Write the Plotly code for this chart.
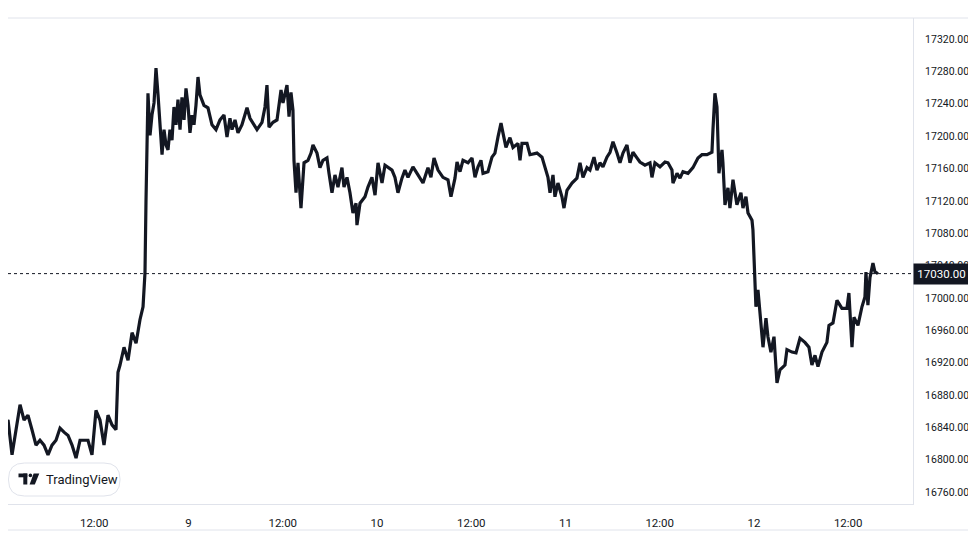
import pandas as pd
import plotly.graph_objects as go

# Hours since 2022-12-08 00:00 and BTC price readings
hours = [0.00, 0.51, 1.02, 1.53, 2.04, 2.55, 3.06, 3.56, 4.07, 4.58, 5.09, 5.60, 6.11, 6.62, 7.13, 7.64,
         8.15, 8.66, 9.17, 9.68, 10.19, 10.69, 11.20, 11.71, 12.22, 12.73, 13.24, 13.75, 14.26, 14.77,
         15.02, 15.28, 15.79, 16.30, 16.81, 17.32, 17.82, 18.21, 18.46, 18.59, 18.72, 18.84, 19.10,
         19.35, 19.61, 19.86, 20.12, 20.37, 20.63, 20.88, 21.14, 21.39, 21.64, 21.90, 22.15, 22.41,
         22.66, 22.92, 23.17, 23.43, 23.68, 23.94, 24.19, 24.45, 24.70, 24.95, 25.21, 25.46, 25.97,
         26.48, 26.99, 27.50, 28.01, 28.52,
         28.90, 29.28, 29.54, 29.92, 30.30, 30.81, 31.45, 31.83, 32.72, 33.36, 33.74, 33.99, 34.25,
         34.76, 35.27, 35.78, 36.03, 36.54, 36.80, 37.05, 37.30, 37.43, 37.69, 37.94, 38.32, 38.71,
         39.21, 39.60, 39.85, 40.36, 40.74, 41.12, 41.63, 41.89, 42.27, 42.65, 43.03, 43.54, 43.80,
         44.18, 44.56, 44.94, 45.33, 45.45, 45.84, 46.47, 46.85, 47.36, 47.75, 48.13, 48.64, 49.02,
         49.91, 50.29, 50.67, 51.18, 51.56, 51.95, 52.58, 53.22, 53.86, 54.49, 54.87, 55.26, 55.77,
         56.40, 57.04, 57.42,
         57.93, 58.19, 58.57, 58.95, 59.59, 60.10, 60.48, 60.86, 61.24, 61.50, 62.13, 62.64, 63.02,
         63.41, 63.79, 64.04, 64.42, 64.93, 65.32, 65.95, 66.21, 66.46, 67.10, 67.48, 68.37, 69.01,
         69.39, 69.77, 70.03, 70.41, 70.66, 71.04, 71.55, 71.81, 72.19, 72.83, 73.46, 73.85, 74.23,
         74.74, 75.12, 75.63, 76.01, 76.39, 76.77, 77.28, 77.67, 78.05, 78.56, 78.94, 79.32, 79.83,
         80.21, 80.59, 81.10, 81.48, 82.12, 82.76, 83.01, 83.39, 84.03, 84.67, 85.05, 85.56, 85.69,
         86.20, 86.58, 86.96, 87.60, 88.23, 88.87,
         89.38, 90.02, 90.65, 90.78, 91.03, 91.29, 91.42, 91.54, 91.93, 92.05, 92.31, 92.69, 92.94,
         93.33, 93.83, 94.34, 94.60, 94.98, 95.24, 95.75, 95.87, 96.13, 96.25, 96.51, 96.76, 97.15,
         97.53, 97.78, 98.16, 98.55, 98.93, 99.31, 99.95, 100.20, 100.84, 101.35, 101.86, 102.49,
         103.00, 103.38, 103.77, 104.15, 104.66, 105.29, 105.55, 106.06, 106.57, 107.20, 107.84,
         108.09, 108.48, 108.73, 109.24, 109.75, 110.13, 110.26, 110.51, 110.77, 111.15, 111.41, 111.79]

prices = [16874, 16837, 16849, 16806, 16837, 16868, 16849, 16855, 16837, 16818, 16824, 16818, 16806, 16818,
          16824, 16839, 16834, 16830, 16818, 16802, 16824, 16824, 16824, 16806, 16861, 16849, 16818, 16855,
          16843, 16837, 16908, 16917, 16939, 16923, 16957, 16944, 16973, 16989, 17031, 17121, 17183, 17253,
          17201, 17226, 17241, 17284, 17251, 17220, 17177, 17208, 17189, 17183, 17208, 17195, 17236, 17214,
          17245, 17208, 17248, 17220, 17259, 17238, 17204, 17226, 17214, 17238, 17273, 17251, 17238, 17235,
          17214, 17208, 17220, 17226,
          17199, 17222, 17208, 17220, 17204, 17214, 17235, 17222, 17208, 17217, 17236, 17263, 17211, 17217,
          17220, 17257, 17241, 17263, 17224, 17254, 17232, 17170, 17130, 17167, 17111, 17167, 17170, 17179,
          17189, 17179, 17161, 17170, 17173, 17154, 17130, 17152, 17137, 17161, 17137, 17149, 17130, 17105,
          17117, 17090, 17117, 17125, 17137, 17149, 17127, 17167, 17142, 17164, 17158, 17149, 17130, 17148,
          17158, 17149, 17162, 17152, 17142, 17161, 17149, 17173, 17158, 17149, 17146, 17125,
          17148, 17168, 17156, 17170, 17167, 17173, 17149, 17162, 17170, 17154, 17156, 17174, 17179, 17199,
          17216, 17204, 17186, 17198, 17186, 17191, 17170, 17191, 17191, 17177, 17179, 17174, 17162, 17149,
          17130, 17152, 17125, 17142, 17125, 17111, 17133, 17142, 17148, 17167, 17149, 17161, 17158, 17174,
          17158, 17167, 17162, 17174, 17180, 17193, 17179, 17167, 17179, 17189, 17167, 17180, 17173, 17168,
          17164, 17167, 17149, 17167, 17162, 17168, 17167, 17158, 17142, 17154, 17148, 17156, 17154, 17161,
          17173,
          17177, 17177, 17180, 17208, 17253, 17236, 17186, 17154, 17183, 17167, 17115, 17136, 17111, 17146,
          17115, 17130, 17111, 17125, 17105, 17096, 17084, 17031, 16989, 17010, 16981, 16939, 16975, 16952,
          16933, 16952, 16895, 16911, 16917, 16936, 16933, 16932, 16950, 16945, 16939, 16917, 16929, 16915,
          16933, 16945, 16966, 16969, 16997, 16987, 16987, 17006, 16939, 16976, 16966, 16989, 17001, 17032,
          16991, 17025, 17043, 17032, 17030]

last_price = 17030.00
y_ticks = [16760, 16800, 16840, 16880, 16920, 16960, 17000, 17040, 17080, 17120, 17160, 17200, 17240, 17280, 17320]
x_tickvals = ["2022-12-08 00:00", "2022-12-08 12:00", "2022-12-09 00:00", "2022-12-09 12:00",
              "2022-12-10 00:00", "2022-12-10 12:00", "2022-12-11 00:00", "2022-12-11 12:00",
              "2022-12-12 00:00", "2022-12-12 12:00"]
x_ticktext = ["8", "12:00", "9", "12:00", "10", "12:00", "11", "12:00", "12", "12:00"]

times = pd.Timestamp("2022-12-08 00:00") + pd.to_timedelta(hours, unit="h")

# The page body adds an 8px offset; figure sized/positioned to compensate.
OFF = 8
W, H = 976 - OFF, 542 - 2 * OFF
SL, SR, ST, SB = 8, 913, 18, 504          # plot area in screen pixels
PW, PH = SR - SL, SB - ST


def px(sx):
    return (sx - SL) / PW


def py(sy):
    return (SB - sy) / PH


def rounded(x0, y0, x1, y1, r):
    X0, X1 = px(x0), px(x1)
    Y0, Y1 = py(y0), py(y1)
    rx, ry = r / PW, r / PH
    return (f"M{X0 + rx},{Y0} L{X1 - rx},{Y0} Q{X1},{Y0} {X1},{Y0 - ry} "
            f"L{X1},{Y1 + ry} Q{X1},{Y1} {X1 - rx},{Y1} L{X0 + rx},{Y1} "
            f"Q{X0},{Y1} {X0},{Y1 + ry} L{X0},{Y0 - ry} Q{X0},{Y0} {X0 + rx},{Y0} Z")


ink = "#131722"
border = "#e0e3eb"

fig = go.Figure()
fig.add_trace(go.Scatter(x=times, y=prices, mode="lines",
                         line=dict(color=ink, width=3.2), hoverinfo="skip"))

shapes = []
shapes.append(dict(type="line", xref="paper", yref="y", x0=0, x1=1, y0=last_price, y1=last_price,
                   line=dict(color=ink, width=1, dash="dot")))
shapes.append(dict(type="line", xref="paper", yref="paper", x0=0, x1=px(976), y0=py(18), y1=py(18),
                   line=dict(color=border, width=1)))
shapes.append(dict(type="line", xref="paper", yref="paper", x0=0, x1=px(976), y0=py(530), y1=py(530),
                   line=dict(color=border, width=1)))
# TradingView badge
shapes.append(dict(type="path", xref="paper", yref="paper", path=rounded(8.5, 463, 120, 496, 16),
                   line=dict(color=border, width=1), fillcolor="white"))
shapes.append(dict(type="rect", xref="paper", yref="paper", x0=px(18.5), x1=px(27.3), y0=py(473.5), y1=py(477.3),
                   line=dict(width=0), fillcolor=ink))
shapes.append(dict(type="rect", xref="paper", yref="paper", x0=px(23.3), x1=px(27.3), y0=py(473.5), y1=py(484.5),
                   line=dict(width=0), fillcolor=ink))
shapes.append(dict(type="circle", xref="paper", yref="paper", x0=px(28.6), x1=px(32.2), y0=py(473.6), y1=py(477.2),
                   line=dict(width=0), fillcolor=ink))
shapes.append(dict(type="path", xref="paper", yref="paper",
                   path=f"M{px(33.6)},{py(473.5)} L{px(39.3)},{py(473.5)} L{px(34.8)},{py(484.5)} L{px(29.6)},{py(484.5)} Z",
                   line=dict(width=0), fillcolor=ink))

annotations = [
    dict(xref="paper", yref="y", x=1, y=last_price, xanchor="left", yanchor="middle",
         text="17030.00", showarrow=False, bgcolor=ink, width=51, height=16, borderpad=2,
         font=dict(color="white", size=11.5, family="Roboto")),
    dict(xref="paper", yref="paper", x=px(44), y=py(479.5), xanchor="left", yanchor="middle",
         text="TradingView", showarrow=False, font=dict(color=ink, size=13, family="Roboto")),
]

fig.update_layout(
    width=W, height=H, template="none",
    margin=dict(l=0, r=976 - SR, t=ST - OFF, b=(542 - OFF) - SB, pad=0),
    paper_bgcolor="white", plot_bgcolor="white",
    showlegend=False,
    shapes=shapes, annotations=annotations,
    xaxis=dict(range=["2022-12-08 01:01", "2022-12-12 20:15"], tickvals=x_tickvals, ticktext=x_ticktext,
               showgrid=False, zeroline=False, showline=True, linecolor=border, linewidth=1,
               ticks="", ticklabelstandoff=8, automargin=False,
               tickfont=dict(family="Roboto", size=11.5, color=ink)),
    yaxis=dict(side="right", range=[16745.2, 17346.0], tickvals=y_ticks,
               ticktext=[f"{v:.2f}" for v in y_ticks],
               showgrid=False, zeroline=False, showline=True, linecolor=border, linewidth=1,
               ticks="", ticklabelstandoff=9, automargin=False,
               tickfont=dict(family="Roboto", size=10.5, color=ink)),
)

fig.write_html("out.html")
